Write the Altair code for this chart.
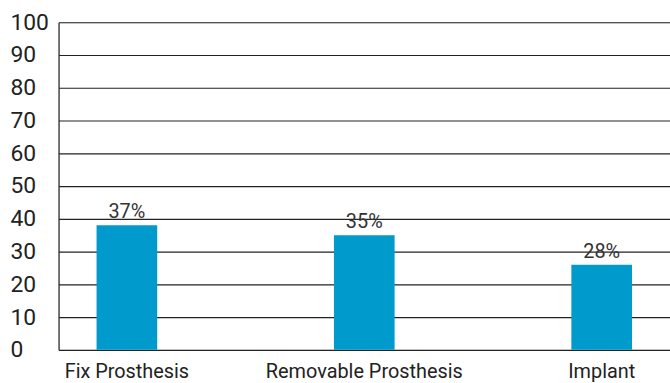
import altair as alt
import pandas as pd

categories = ["Fix Prosthesis", "Removable Prosthesis", "Implant"]
values = [38, 35, 26]
labels = ["37%", "35%", "28%"]

df = pd.DataFrame({"cat": categories, "val": values, "lab": labels})

FONT = "Roboto"

x = alt.X(
    "cat:N",
    sort=categories,
    title=None,
    scale=alt.Scale(paddingInner=0.7445, paddingOuter=0.16),
    axis=alt.Axis(
        labelAngle=0, ticks=False, domain=False, labelPadding=12,
        labelFontSize=20, labelFont=FONT, labelColor="#222222",
        labelFontWeight="normal", labelLimit=400,
    ),
)
y = alt.Y(
    "val:Q",
    title=None,
    scale=alt.Scale(domain=[0, 100], nice=False),
    axis=alt.Axis(
        values=list(range(0, 101, 10)), ticks=False, domain=True,
        domainColor="#222222", domainWidth=1.2,
        grid=True, gridColor="#222222", gridWidth=1.2,
        labelAlign="left", labelPadding=49, labelFontSize=23,
        labelFont=FONT, labelColor="#222222", labelOverlap=False,
    ),
)

bars = alt.Chart(df).mark_bar(color="#009ACD").encode(x=x, y=y)
text = alt.Chart(df).mark_text(
    baseline="bottom", dy=-3, fontSize=20, font=FONT, color="#333333"
).encode(x=x, y=y, text="lab:N")

chart = (
    alt.layer(bars, text)
    .properties(
        width=616, height=330,
        autosize=alt.AutoSizeParams(type="none"),
        padding={"left": 59, "top": 21, "right": 0, "bottom": 32},
    )
    .configure_view(stroke=None)
    .configure(background="white")
)

chart.save("out.html", embed_options={"renderer": "svg", "actions": False})
